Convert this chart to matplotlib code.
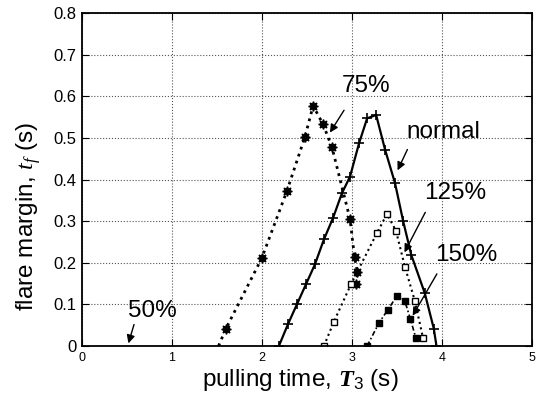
import matplotlib.pyplot as plt

plt.rcParams["font.family"] = ["Liberation Sans", "DejaVu Sans"]
plt.rcParams["mathtext.fontset"] = "custom"
plt.rcParams["mathtext.rm"] = "Liberation Sans"
plt.rcParams["mathtext.it"] = "Liberation Serif:italic"
plt.rcParams["mathtext.bf"] = "Liberation Serif:bold:italic"

# ---- DATA ----
t_75 = [1.52, 1.60, 2.00, 2.28, 2.48, 2.57, 2.68, 2.78, 2.98, 3.03, 3.06, 3.05]
f_75 = [0.0, 0.041, 0.211, 0.373, 0.503, 0.577, 0.533, 0.477, 0.305, 0.213, 0.179, 0.148]

t_normal = [2.19, 2.29, 2.39, 2.49, 2.59, 2.69, 2.79, 2.89, 2.98, 3.08, 3.17, 3.27,
            3.37, 3.48, 3.57, 3.66, 3.81, 3.91, 3.94]
f_normal = [0.0, 0.052, 0.100, 0.148, 0.196, 0.256, 0.307, 0.367, 0.407, 0.487, 0.547, 0.555,
            0.471, 0.391, 0.300, 0.219, 0.127, 0.042, 0.0]

t_125 = [2.69, 2.80, 2.99, 3.28, 3.39, 3.49, 3.59, 3.70, 3.79]
f_125 = [0.0, 0.058, 0.148, 0.272, 0.317, 0.277, 0.190, 0.108, 0.020]

t_150 = [3.17, 3.30, 3.40, 3.50, 3.59, 3.65, 3.71]
f_150 = [0.0, 0.055, 0.087, 0.120, 0.107, 0.065, 0.020]

# ---- PLOT ----
fig = plt.figure(figsize=(5.36, 3.94), dpi=100)
ax = fig.add_axes([0.1524, 0.1218, 0.8400, 0.8452])

ax.plot(t_75, f_75, ls=":", lw=2.0, color="black")
ax.plot(t_75[1:], f_75[1:], ls="none", marker=(8, 1, 0), ms=7, color="black")

ax.plot(t_normal, f_normal, ls="-", lw=1.6, color="black",
        marker="+", ms=7, mew=1.2)

ax.plot(t_125, f_125, ls=":", lw=1.5, color="black", marker="s", ms=5,
        mfc="white", mec="black", mew=1.0)

ax.plot(t_150, f_150, ls=(0, (3, 1.5, 1, 1.5)), lw=1.2, color="black",
        marker="s", ms=5, mfc="black", mec="black")

# labels with arrows
fs = 17.5
arrow = dict(arrowstyle="-|>", color="black", lw=1.0, mutation_scale=12)
ax.text(3.16, 0.625, "75%", fontsize=fs, ha="center", va="center")
ax.annotate("", xy=(2.74, 0.507), xytext=(2.93, 0.572), arrowprops=arrow)
ax.text(4.02, 0.514, "normal", fontsize=fs, ha="center", va="center")
ax.annotate("", xy=(3.495, 0.416), xytext=(3.63, 0.478), arrowprops=arrow)
ax.text(4.15, 0.368, "125%", fontsize=fs, ha="center", va="center")
ax.annotate("", xy=(3.57, 0.219), xytext=(3.83, 0.327), arrowprops=arrow)
ax.text(4.27, 0.219, "150%", fontsize=fs, ha="center", va="center")
ax.annotate("", xy=(3.66, 0.067), xytext=(3.96, 0.179), arrowprops=arrow)
ax.text(0.78, 0.084, "50%", fontsize=fs, ha="center", va="center")
ax.annotate("", xy=(0.51, 0.0), xytext=(0.59, 0.058), arrowprops=arrow)

ax.set_xlim(0, 5)
ax.set_ylim(0, 0.8)
ax.set_xticks([0, 1, 2, 3, 4, 5])
ax.set_yticks([0, 0.1, 0.2, 0.3, 0.4, 0.5, 0.6, 0.7, 0.8])
ax.set_yticklabels(["0", "0.1", "0.2", "0.3", "0.4", "0.5", "0.6", "0.7", "0.8"])
ax.tick_params(axis="both", direction="in", top=True, right=True, length=5)
ax.tick_params(axis="x", labelsize=9, pad=4)
ax.tick_params(axis="y", labelsize=12)
ax.grid(True, ls=":", lw=0.8, color="#555555")
for s in ax.spines.values():
    s.set_linewidth(1.3)

ax.set_xlabel(r"pulling time, $\mathbf{T}_{3}$ (s)", fontsize=fs)
ax.xaxis.set_label_coords(0.485, -0.062)
ax.set_ylabel(r"flare margin, $t_f$ (s)", fontsize=fs)
ax.yaxis.set_label_coords(-0.087, 0.39)

plt.savefig("out.png", dpi=100)
